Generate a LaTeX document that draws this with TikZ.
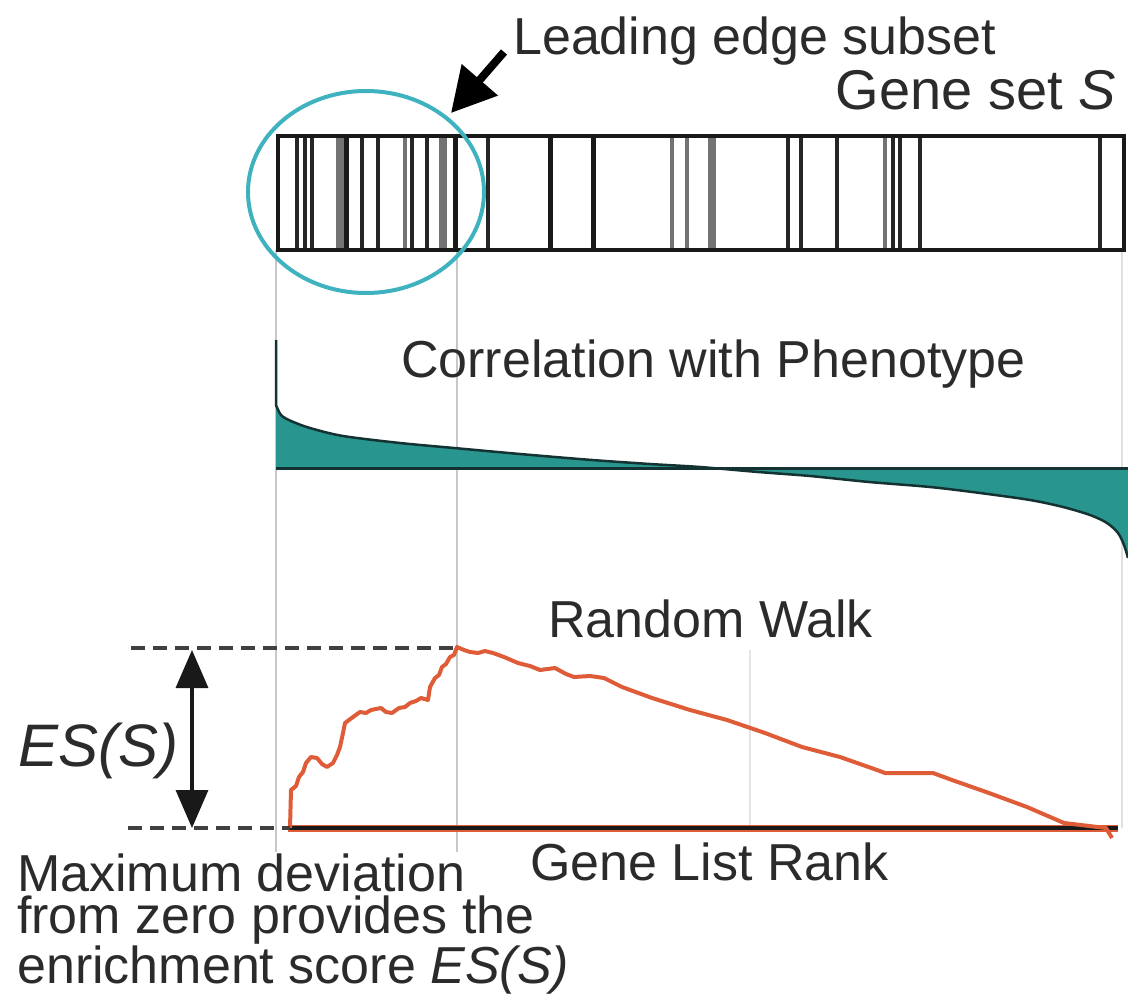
\documentclass[tikz,border=0pt]{standalone}
\usepackage{fontspec}
\setmainfont{Liberation Sans}
\usetikzlibrary{arrows.meta,shapes.geometric}
\definecolor{txt}{HTML}{2B2B2B}
\definecolor{tealfill}{RGB}{40,150,142}
\definecolor{tealedge}{RGB}{20,50,50}
\definecolor{circ}{RGB}{62,178,190}
\definecolor{walk}{RGB}{222,92,56}
\definecolor{guide}{RGB}{200,200,200}
\tikzset{
  lbl/.style={font=\fontsize{52}{42}\selectfont, text=txt, inner sep=0pt, anchor=base west},
  bigl/.style={font=\fontsize{60}{60}\selectfont\itshape, text=txt, inner sep=0pt, anchor=base west},
  barD/.style={draw=black!85, line width=3.5pt},
  barG/.style={draw=black!55, line width=4pt},
  barGW/.style={draw=black!55, line width=8pt},
  dashln/.style={draw=black!75, line width=3.5pt, dash pattern=on 14pt off 8pt},
  guideln/.style={draw=guide, line width=2pt},
}
\begin{document}
\begin{tikzpicture}[x=1pt,y=-1pt]
\useasboundingbox (0,0) rectangle (1128,995);

% guide lines
\draw[guideln] (276,250) -- (276,852);
\draw[guideln] (457,250) -- (457,852);
\draw[draw=black!10, line width=2pt] (750,650) -- (750,828);
\draw[draw=black!12, line width=2pt] (1122,250) -- (1122,828);

% barcode
\foreach \x in {297,305,312,362,378,412,427,488,788,801,837,893,900,920,1100} \draw[barD] (\x,134) -- (\x,248);
\foreach \x in {405,672,687,885} \draw[barG] (\x,134) -- (\x,248);
\foreach \x in {340,443,712} \draw[barGW] (\x,134) -- (\x,248);
\foreach \x in {346,455,550,593} \draw[draw=black!90, line width=5pt] (\x,134) -- (\x,248);
\node[draw=black!90, line width=4pt, minimum width=846pt, minimum height=114pt, inner sep=0pt, anchor=north west] (box) at (276,134) {};

% leading edge circle and arrow
\node[draw=circ, line width=4pt, ellipse, minimum width=236pt, minimum height=202pt, inner sep=0pt] (lead) at (366,192) {};
\coordinate (atail) at (504,52);
\coordinate (atip) at (451,113);
\draw[line width=8pt, -{Triangle[length=44pt,width=46pt]}] (atail) -- (atip);

% texts
\node[lbl] (tlead) at (513,55) {Leading edge subset};
\node[lbl, anchor=base east, font=\fontsize{56}{56}\selectfont] (tgene) at (1116,110) {Gene set \textit{S}};
\node[lbl] (tcorr) at (401,377) {Correlation with Phenotype};
\node[lbl] (twalk) at (548,637) {Random Walk};
\node[lbl] (trank) at (530,880) {Gene List Rank};
\node[bigl] (tes) at (18,766) {ES(S)};
\node[lbl, anchor=north west, align=left] (mdev) at (17,854) {Maximum deviation\\from zero provides the\\enrichment score \textit{ES(S)}};

% correlation profile
\fill[tealfill] (276,468) -- (276,340) -- (276,405)
  -- plot[smooth] coordinates {(276,405) (281,415) (291,421) (310,428) (343,436) (400,443) (454,448) (520,454) (592,460) (650,464) (700,467) (758,472) (810,476) (869,482) (930,487) (980,493) (1030,500) (1063,507) (1090,515) (1107,523) (1118,533) (1124,545) (1128,558)}
  -- (1128,468) -- cycle;
\draw[tealedge, line width=2.5pt] (276,340) -- (276,405)
  -- plot[smooth] coordinates {(276,405) (281,415) (291,421) (310,428) (343,436) (400,443) (454,448) (520,454) (592,460) (650,464) (700,467) (758,472) (810,476) (869,482) (930,487) (980,493) (1030,500) (1063,507) (1090,515) (1107,523) (1118,533) (1124,545) (1128,558)};
\coordinate (z0) at (276,468);
\coordinate (z1) at (1128,468);
\draw[tealedge, line width=3pt] (z0) -- (z1);

% random walk
\coordinate (w0) at (288,828);
\coordinate (w1) at (1118,828);
\draw[walk, line width=7pt] (w0) -- (w1);
\draw[black!90, line width=4pt] (w0) -- (w1);
\draw[walk, line width=4pt, line join=round] plot coordinates {(290,828) (291,790) (296,786) (299,777) (303,772) (306,763) (311,757) (317,758) (322,764) (327,767) (333,763) (337,755) (340,747) (343,733) (345,723) (353,717) (360,712) (366,713) (371,710) (381,708) (386,712) (392,713) (399,708) (405,707) (410,703) (416,701) (421,698) (428,700) (430,687) (435,678) (439,675) (442,667) (446,664) (450,657) (454,655) (457,647) (464,650) (470,652) (478,653) (485,651) (493,653) (504,657) (518,663) (530,666) (540,670) (555,668) (566,674) (574,677) (590,676) (604,678) (622,687) (652,698) (690,710) (727,720) (765,733) (802,747) (840,757) (877,770) (885,773) (933,773) (952,780) (989,793) (1027,807) (1064,823) (1106,828) (1112,838)};

% ES(S) dashed guides and double arrow
\coordinate (dtop0) at (131,648);
\coordinate (dtop1) at (457,648);
\coordinate (dbot0) at (128,828);
\coordinate (dbot1) at (290,828);
\draw[dashln] (dtop0) -- (dtop1);
\draw[dashln] (dbot0) -- (dbot1);
\coordinate (es0) at (192,650);
\coordinate (es1) at (192,828);
\draw[line width=3.5pt, draw=black!90, {Triangle[length=38pt,width=32pt]}-{Triangle[length=38pt,width=32pt]}] (es0) -- (es1);
\end{tikzpicture}
\end{document}
